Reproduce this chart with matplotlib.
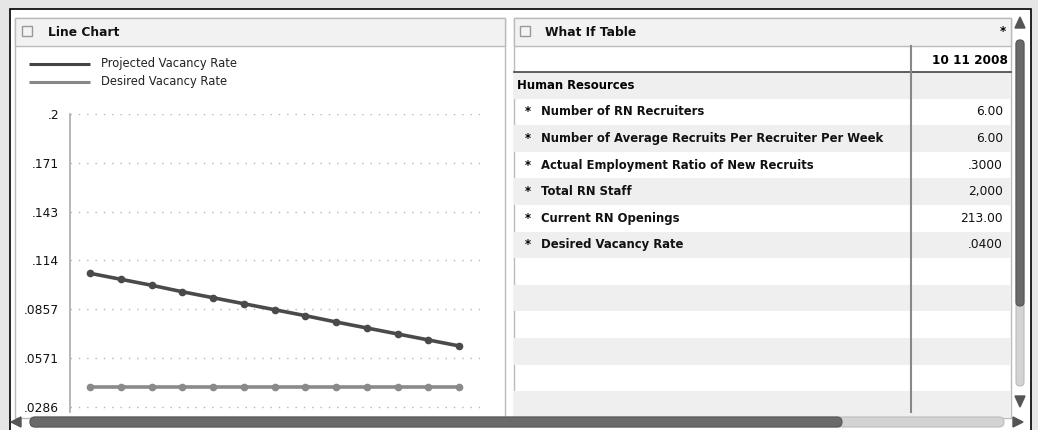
import matplotlib.pyplot as plt
from matplotlib.patches import Rectangle, FancyBboxPatch, Polygon

# chart data
periods = list(range(13))
projected = [0.1068, 0.1033, 0.0998, 0.0960, 0.0925, 0.0890, 0.0855,
             0.0820, 0.0783, 0.0748, 0.0713, 0.0678, 0.0643]
desired = [0.0400] * 13
ytick_vals = [0.2 * k / 7 for k in range(1, 8)]
ytick_labels = ['.0286', '.0571', '.0857', '.114', '.143', '.171', '.2']
series_names = ['Projected Vacancy Rate', 'Desired Vacancy Rate']

# table data
col_header = '10 11 2008'
group_name = 'Human Resources'
row_names = ['Number of RN Recruiters',
             'Number of Average Recruits Per Recruiter Per Week',
             'Actual Employment Ratio of New Recruits',
             'Total RN Staff',
             'Current RN Openings',
             'Desired Vacancy Rate']
row_values = ['6.00', '6.00', '.3000', '2,000', '213.00', '.0400']

W, H = 1038, 430
fig = plt.figure(figsize=(W / 100, H / 100), dpi=100)
fig.patch.set_facecolor('#e6e6e6')

bg = fig.add_axes([0, 0, 1, 1])
bg.set_xlim(0, W)
bg.set_ylim(H, 0)
bg.axis('off')

# outer frame
bg.add_patch(Rectangle((10, 9), 1021, 430, facecolor='white', edgecolor='black', lw=1.2))

# left panel
bg.add_patch(Rectangle((15, 18), 490, 400, facecolor='white', edgecolor='#bbbbbb', lw=1))
bg.add_patch(Rectangle((15, 18), 490, 28, facecolor='#f2f2f2', edgecolor='#bbbbbb', lw=1))
# right panel
bg.add_patch(Rectangle((514, 18), 497, 400, facecolor='white', edgecolor='#bbbbbb', lw=1))
bg.add_patch(Rectangle((514, 18), 497, 28, facecolor='#f2f2f2', edgecolor='#bbbbbb', lw=1))

# header checkboxes + titles
for x0 in (22, 520):
    bg.add_patch(Rectangle((x0, 26), 10, 10, facecolor='#f4f4f4', edgecolor='#999999', lw=1))
bg.text(48, 33, 'Line Chart', fontsize=8.8, fontweight='bold', va='center', color='#111111')
bg.text(545, 33, 'What If Table', fontsize=8.8, fontweight='bold', va='center', color='#111111')
bg.text(1003, 31, '*', fontsize=8.5, fontweight='bold', va='center', ha='center')

# legend
legend_colors = ['#444444', '#888888']
for i, name in enumerate(series_names):
    y = 64 + i * 18
    bg.plot([29, 90], [y, y], color=legend_colors[i], lw=2.2, solid_capstyle='butt')
    bg.text(101, y, name, fontsize=8.3, va='center', color='#222222')

# table
row_h = 26.6
top = 72
n_rows = 13
for i in range(n_rows):
    y = top + i * row_h
    if i % 2 == 0:
        bg.add_patch(Rectangle((514, y), 497, row_h, facecolor='#efefef', edgecolor='none'))
bg.plot([514, 1011], [72, 72], color='#444444', lw=1.2)
bg.plot([911, 911], [46, 412], color='#888888', lw=1.5)
bg.text(1008, 60, col_header, fontsize=8.7, fontweight='bold', ha='right', va='center')
bg.text(517, top + row_h / 2, group_name, fontsize=8.4, fontweight='bold', va='center')
for i, (name, val) in enumerate(zip(row_names, row_values)):
    y = top + (i + 1) * row_h + row_h / 2
    bg.text(528, y, '*', fontsize=8.4, fontweight='bold', va='center', ha='center')
    bg.text(541, y, name, fontsize=8.4, fontweight='bold', va='center', color='#111111')
    bg.text(1003, y, val, fontsize=8.8, ha='right', va='center', color='#111111')

# vertical scrollbar
bg.add_patch(FancyBboxPatch((1016, 40), 8, 346, boxstyle='round,pad=0,rounding_size=4',
                            facecolor='#d3d3d3', edgecolor='#bbbbbb', lw=0.8))
bg.add_patch(FancyBboxPatch((1016, 40), 8, 266, boxstyle='round,pad=0,rounding_size=4',
                            facecolor='#6a6a6a', edgecolor='#555555', lw=0.8))
bg.add_patch(Polygon([[1015, 28], [1025, 28], [1020, 17]], color='#555555'))
bg.add_patch(Polygon([[1015, 396], [1025, 396], [1020, 407]], color='#555555'))

# horizontal scrollbar
bg.add_patch(FancyBboxPatch((30, 417), 974, 10, boxstyle='round,pad=0,rounding_size=5',
                            facecolor='#d3d3d3', edgecolor='#bbbbbb', lw=0.8))
bg.add_patch(FancyBboxPatch((30, 417), 812, 10, boxstyle='round,pad=0,rounding_size=5',
                            facecolor='#6a6a6a', edgecolor='#555555', lw=0.8))
bg.add_patch(Polygon([[21, 417], [21, 427], [11, 422]], color='#555555'))
bg.add_patch(Polygon([[1013, 417], [1013, 427], [1023, 422]], color='#555555'))

# line chart axes (pixel placement inside the left panel)
ax = fig.add_axes([70 / W, (H - 412) / H, (480 - 70) / W, (412 - 114) / H])
ax.set_facecolor('none')
ax.plot(periods, projected, color='#4a4a4a', lw=2.6, marker='o', ms=4.5, zorder=3)
ax.plot(periods, desired, color='#8a8a8a', lw=2.6, marker='o', ms=4.5, zorder=3)
ax.set_xlim(-0.65, 12.68)
ax.set_ylim(0.02564, 0.2)
ax.set_yticks(ytick_vals)
ax.set_yticklabels(ytick_labels, fontsize=8.8, color='#111111')
ax.set_xticks([])
ax.yaxis.grid(True, linestyle=(0, (1, 5)), color='#b5b5b5', lw=1)
ax.tick_params(axis='y', length=0, pad=8)
for s in ('top', 'right', 'bottom'):
    ax.spines[s].set_visible(False)
ax.spines['left'].set_color('#aaaaaa')
ax.spines['left'].set_linewidth(1.2)

fig.savefig('out.png', dpi=100, facecolor=fig.get_facecolor())
